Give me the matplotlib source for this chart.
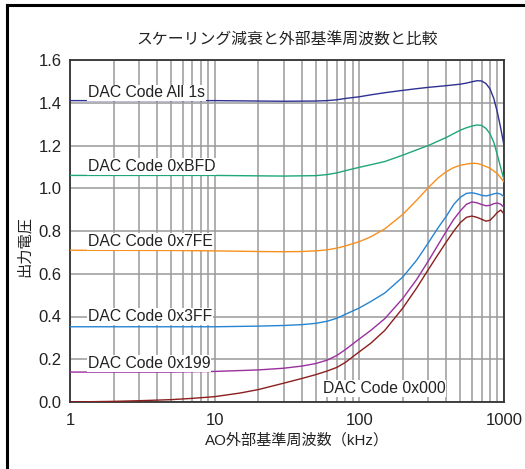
import matplotlib
matplotlib.use("Agg")
import matplotlib.pyplot as plt
from matplotlib.lines import Line2D
from matplotlib.ticker import LogLocator, FixedLocator, NullFormatter

plt.rcParams["font.family"] = ["Liberation Sans", "Noto Sans CJK JP", "DejaVu Sans"]

# frequencies in kHz and output voltage
freq_all1s = [1, 10, 20, 30, 50, 60, 70, 80, 100, 120, 150, 200, 250, 300, 400, 500, 550, 600, 650, 700, 750, 800, 850, 900, 950, 1000]
volt_all1s = [1.41, 1.41, 1.408, 1.407, 1.408, 1.41, 1.414, 1.42, 1.428, 1.437, 1.447, 1.458, 1.466, 1.472, 1.48, 1.487, 1.492, 1.498, 1.503, 1.502, 1.49, 1.465, 1.42, 1.355, 1.28, 1.20]

freq_bfd = [1, 10, 20, 30, 50, 60, 70, 80, 100, 120, 150, 200, 250, 300, 400, 500, 550, 600, 650, 700, 750, 800, 850, 900, 950, 1000]
volt_bfd = [1.06, 1.06, 1.058, 1.057, 1.059, 1.064, 1.072, 1.082, 1.098, 1.11, 1.125, 1.155, 1.18, 1.20, 1.238, 1.272, 1.283, 1.291, 1.296, 1.294, 1.28, 1.255, 1.215, 1.155, 1.095, 1.04]

freq_7fe = [1, 5, 10, 20, 30, 40, 50, 60, 70, 80, 100, 120, 150, 200, 250, 300, 350, 400, 450, 500, 600, 650, 700, 800, 900, 1000]
volt_7fe = [0.71, 0.709, 0.707, 0.704, 0.703, 0.704, 0.707, 0.712, 0.72, 0.73, 0.75, 0.773, 0.81, 0.878, 0.945, 1.003, 1.048, 1.078, 1.097, 1.108, 1.117, 1.116, 1.11, 1.094, 1.068, 1.03]

freq_3ff = [1, 10, 20, 30, 40, 50, 60, 70, 80, 100, 120, 150, 200, 250, 300, 350, 400, 450, 500, 550, 600, 650, 700, 750, 800, 850, 900, 950, 1000]
volt_3ff = [0.352, 0.352, 0.355, 0.358, 0.362, 0.368, 0.378, 0.392, 0.41, 0.44, 0.47, 0.51, 0.585, 0.665, 0.745, 0.815, 0.87, 0.925, 0.958, 0.976, 0.979, 0.974, 0.967, 0.964, 0.968, 0.974, 0.977, 0.972, 0.96]

freq_199 = [1, 5, 10, 20, 30, 40, 50, 60, 70, 80, 100, 120, 150, 200, 250, 300, 350, 400, 450, 500, 550, 600, 650, 700, 750, 800, 850, 900, 950, 1000]
volt_199 = [0.14, 0.14, 0.143, 0.15, 0.158, 0.168, 0.18, 0.196, 0.218, 0.245, 0.295, 0.335, 0.39, 0.485, 0.575, 0.66, 0.735, 0.80, 0.855, 0.895, 0.925, 0.936, 0.932, 0.924, 0.918, 0.92, 0.928, 0.931, 0.925, 0.91]

freq_000 = [1, 2, 3, 5, 7, 10, 15, 20, 30, 40, 50, 60, 70, 80, 100, 120, 150, 200, 250, 300, 350, 400, 450, 500, 550, 600, 650, 700, 750, 800, 850, 900, 950, 1000]
volt_000 = [0.0, 0.003, 0.006, 0.011, 0.017, 0.025, 0.042, 0.058, 0.088, 0.11, 0.128, 0.145, 0.162, 0.185, 0.235, 0.275, 0.335, 0.44, 0.535, 0.62, 0.69, 0.75, 0.80, 0.84, 0.864, 0.87, 0.864, 0.855, 0.846, 0.85, 0.868, 0.887, 0.898, 0.88]

series = [
    (freq_all1s, volt_all1s, "#2e3192"),
    (freq_bfd, volt_bfd, "#1fa67a"),
    (freq_7fe, volt_7fe, "#f7901e"),
    (freq_3ff, volt_3ff, "#2585d3"),
    (freq_199, volt_199, "#9a2f9e"),
    (freq_000, volt_000, "#8b1e1e"),
]

# label text and anchor (kHz, V)
labels = [
    ("DAC Code All 1s", 1.33, 1.446),
    ("DAC Code 0xBFD", 1.33, 1.101),
    ("DAC Code 0x7FE", 1.33, 0.75),
    ("DAC Code 0x3FF", 1.33, 0.399),
    ("DAC Code 0x199", 1.33, 0.181),
    ("DAC Code 0x000", 55.8, 0.064),
]

fig = plt.figure(figsize=(5.25, 4.69), dpi=100)
ax = fig.add_axes([70 / 525, 1 - 402 / 469, 434 / 525, 342 / 469])

for f, v, c in series:
    ax.plot(f, v, color=c, lw=1.0, zorder=3)

for text, x, y in labels:
    ax.text(x, y, text, fontsize=11.3, color="#222222", va="center", ha="left", zorder=4,
            bbox=dict(facecolor="white", edgecolor="none", pad=0.6))

ax.set_xscale("log")
ax.set_xlim(1, 1000)
ax.set_ylim(0, 1.6)
ax.xaxis.set_major_locator(FixedLocator([1, 10, 100, 1000]))
ax.xaxis.set_minor_locator(LogLocator(base=10, subs=range(2, 10)))
ax.xaxis.set_minor_formatter(NullFormatter())
ax.set_xticklabels(["1", "10", "100", "1000"])
ax.set_yticks([0, 0.2, 0.4, 0.6, 0.8, 1.0, 1.2, 1.4, 1.6])
ax.set_yticklabels(["0.0", "0.2", "0.4", "0.6", "0.8", "1.0", "1.2", "1.4", "1.6"])
ax.tick_params(which="both", length=0, labelsize=12, colors="#222222")
ax.tick_params(axis="y", pad=6)
ax.tick_params(axis="x", pad=8)
ax.grid(True, which="both", color="#9a9a9a", lw=1.1, zorder=1)
for s in ax.spines.values():
    s.set_color("#333333")
    s.set_linewidth(1.3)

ax.set_title("スケーリング減衰と外部基準周波数と比較", fontsize=11.4, pad=11, color="#222222")
ax.set_xlabel("AO外部基準周波数（kHz）", fontsize=10.9, color="#222222", labelpad=6)
ax.xaxis.set_label_coords(0.523, -0.092)
ax.set_ylabel("出力電圧", fontsize=11, color="#222222")
ax.yaxis.set_label_coords(-0.088, 0.455)

# outer frame (only top and left edges visible)
fig.add_artist(Line2D([7 / 525, 7 / 525], [0, 1 - 5 / 469], transform=fig.transFigure, color="black", lw=2.2))
fig.add_artist(Line2D([7 / 525, 1], [1 - 5 / 469, 1 - 5 / 469], transform=fig.transFigure, color="black", lw=2.2))

fig.savefig("out.png", dpi=100)
